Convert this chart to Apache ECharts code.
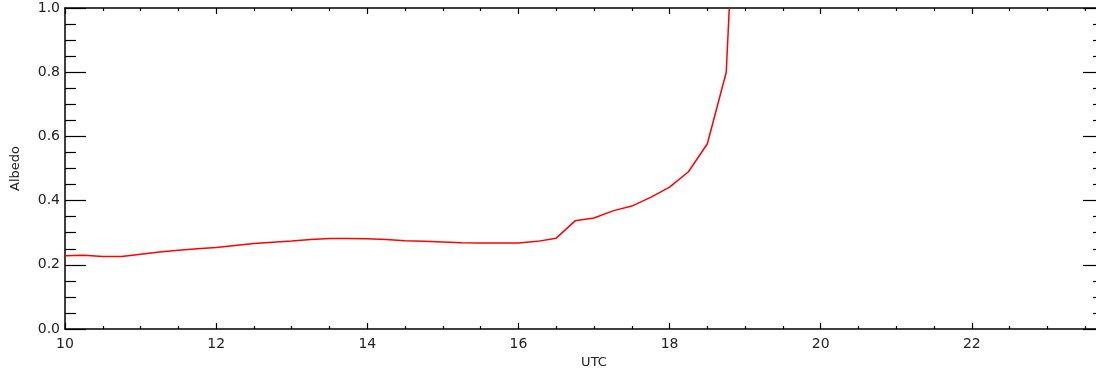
<!DOCTYPE html>
<html>
<head>
<meta charset="utf-8">
<script src="https://cdn.jsdelivr.net/npm/echarts@6/dist/echarts.min.js"></script>
<style>
  html, body { margin: 0; padding: 0; background: #fff; }
  #chart { width: 1096px; height: 370px; }
</style>
</head>
<body>
<div id="chart"></div>
<script>
// UTC hours (15 min steps) and albedo
const utcHours = [
  10.0, 10.25, 10.5, 10.75, 11.0, 11.25, 11.5, 11.75,
  12.0, 12.25, 12.5, 12.75, 13.0, 13.25, 13.5, 13.75,
  14.0, 14.25, 14.5, 14.75, 15.0, 15.25, 15.5, 15.75,
  16.0, 16.25, 16.5, 16.75, 17.0, 17.25, 17.5, 17.75,
  18.0, 18.25, 18.5, 18.75, 19.0
];
const albedo = [
  0.228, 0.230, 0.226, 0.226, 0.233, 0.240, 0.245, 0.250,
  0.254, 0.260, 0.266, 0.270, 0.274, 0.279, 0.282, 0.282,
  0.281, 0.279, 0.275, 0.273, 0.271, 0.269, 0.268, 0.268,
  0.268, 0.273, 0.283, 0.337, 0.346, 0.368, 0.383, 0.410,
  0.442, 0.490, 0.577, 0.800, 2.050
];
const xTicks = [10, 12, 14, 16, 18, 20, 22];

const chart = echarts.init(document.getElementById('chart'));

const font = 'DejaVu Sans';
const ink = '#222';

const option = {
  animation: false,
  backgroundColor: '#fff',
  // plot box runs past the right edge of the window, like the original
  grid: { left: 65, top: 8, width: 1058, height: 321, outerBoundsMode: 'none', containLabel: false },
  xAxis: [
    {
      type: 'value',
      min: 10,
      max: 24,
      interval: 2,
      position: 'bottom',
      name: 'UTC',
      nameLocation: 'middle',
      nameGap: 21,
      nameTextStyle: { fontFamily: font, fontSize: 13, color: ink },
      axisLine: { onZero: false, lineStyle: { color: '#000', width: 1.5 } },
      axisTick: { inside: true, length: 6, lineStyle: { color: '#000', width: 1.2 } },
      minorTick: { show: true, splitNumber: 4, length: 3, lineStyle: { color: '#000', width: 1.2 } },
      axisLabel: {
        margin: 8,
        fontFamily: font, fontSize: 14, color: ink,
        formatter: v => (xTicks.includes(v) ? String(v) : '')
      },
      splitLine: { show: false }
    },
    {
      type: 'value',
      min: 10,
      max: 24,
      interval: 2,
      position: 'top',
      axisLine: { onZero: false, lineStyle: { color: '#000', width: 1.5 } },
      axisTick: { inside: true, length: 6, lineStyle: { color: '#000', width: 1.2 } },
      minorTick: { show: true, splitNumber: 4, length: 3, lineStyle: { color: '#000', width: 1.2 } },
      axisLabel: { show: false },
      splitLine: { show: false }
    }
  ],
  yAxis: [
    {
      type: 'value',
      min: 0,
      max: 1,
      interval: 0.2,
      position: 'left',
      name: 'Albedo',
      nameLocation: 'middle',
      nameGap: 43,
      nameTextStyle: { fontFamily: font, fontSize: 13, color: ink },
      axisLine: { onZero: false, lineStyle: { color: '#000', width: 1.5 } },
      axisTick: { inside: true, length: 21, lineStyle: { color: '#000', width: 1.2 } },
      minorTick: { show: true, splitNumber: 4, length: 11, lineStyle: { color: '#000', width: 1.2 } },
      axisLabel: {
        margin: 5,
        fontFamily: font, fontSize: 14, color: ink,
        formatter: v => v.toFixed(1)
      },
      splitLine: { show: false }
    },
    {
      type: 'value',
      min: 0,
      max: 1,
      interval: 0.2,
      position: 'right',
      offset: -19,
      axisLine: { onZero: false, lineStyle: { color: '#000', width: 1.5 } },
      axisTick: { inside: true, length: 21, lineStyle: { color: '#000', width: 1.2 } },
      minorTick: { show: true, splitNumber: 4, length: 11, lineStyle: { color: '#000', width: 1.2 } },
      axisLabel: { show: false },
      splitLine: { show: false }
    }
  ],
  series: [
    {
      type: 'line',
      data: utcHours.map((t, i) => [t, albedo[i]]),
      showSymbol: false,
      clip: true,
      lineStyle: { color: '#ff0000', width: 1.5 }
    }
  ]
};

option && chart.setOption(option);
</script>
</body>
</html>
